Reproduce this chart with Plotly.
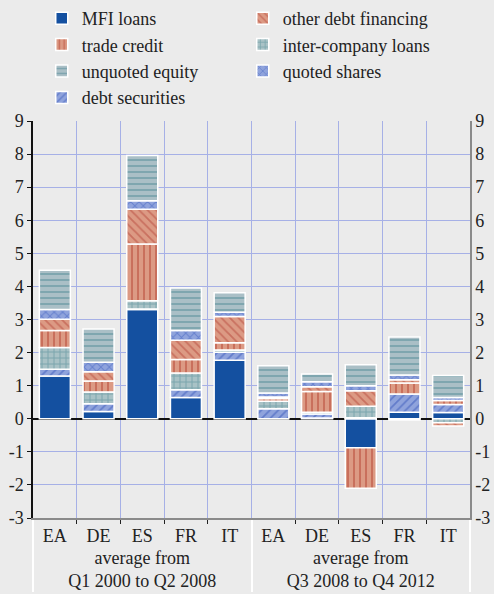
import plotly.graph_objects as go

BG = "#ebebeb"
GRID = "#a6b0e6"
FONT = "Liberation Serif"

groups = ["average from<br>Q1 2000 to Q2 2008"] * 5 + ["average from<br>Q3 2008 to Q4 2012"] * 5
countries = ["EA", "DE", "ES", "FR", "IT"] * 2

# stacked from the bottom up
mfi_loans = [1.29, 0.22, 3.30, 0.64, 1.77, 0.00, 0.02, -0.88, 0.20, 0.19]
debt_securities = [0.21, 0.23, 0.02, 0.24, 0.24, 0.30, 0.12, 0.03, 0.55, 0.24]
inter_company = [0.65, 0.36, 0.25, 0.50, 0.07, 0.23, 0.06, 0.35, -0.04, -0.12]
trade_credit = [0.52, 0.33, 1.71, 0.41, 0.22, 0.08, 0.62, -1.22, 0.33, 0.12]
other_debt = [0.34, 0.28, 1.05, 0.58, 0.79, 0.05, 0.15, 0.47, 0.10, -0.10]
quoted_shares = [0.29, 0.29, 0.26, 0.30, 0.13, 0.12, 0.15, 0.15, 0.14, 0.09]
unquoted_equity = [1.19, 1.00, 1.37, 1.28, 0.59, 0.82, 0.23, 0.63, 1.15, 0.67]

y_ticks = list(range(-3, 10))
y_labels = [str(v) for v in y_ticks]

# name, values, fill, line colour, pattern shape, legend rank
series = [
    ("MFI loans", mfi_loans, "#1450a0", None, "", 1),
    ("debt securities", debt_securities, "#8fa3dc", "#3656b8", "/", 7),
    ("inter-company loans", inter_company, "#a9c2c6", "#4b8893", "+", 4),
    ("trade credit", trade_credit, "#dc9a84", "#b23a2c", "|", 3),
    ("other debt financing", other_debt, "#dc9a84", "#b5453a", "\\", 2),
    ("quoted shares", quoted_shares, "#8fa3dc", "#4060c0", "x", 6),
    ("unquoted equity", unquoted_equity, "#aabfc6", "#4b8893", "-", 5),
]

fig = go.Figure()
for name, vals, fill, fg, shape, rank in series:
    pattern = dict(shape=shape, fgcolor=fg, size=6, solidity=0.3) if shape else None
    fig.add_trace(
        go.Bar(
            x=[groups, countries],
            y=vals,
            name=name,
            legendrank=rank,
            marker=dict(
                color=fill,
                line=dict(color="white", width=1.5),
                pattern=pattern,
            ),
        )
    )

# empty trace so the right-hand axis gets drawn
fig.add_trace(go.Scatter(x=[], y=[], yaxis="y2", showlegend=False, hoverinfo="skip"))

fig.update_layout(
    width=494,
    height=594,
    barmode="relative",
    bargap=0.29,
    plot_bgcolor=BG,
    paper_bgcolor=BG,
    font=dict(family=FONT, size=18, color="#222222"),
    margin=dict(l=33, r=24, t=121, b=76, autoexpand=False),
    showlegend=True,
    legend=dict(
        orientation="h",
        x=0.02,
        xanchor="left",
        y=1.0,
        yref="container",
        yanchor="top",
        entrywidth=156,
        entrywidthmode="pixels",
        bgcolor="rgba(0,0,0,0)",
        font=dict(family=FONT, size=18, color="#222222"),
        traceorder="normal",
        itemwidth=30,
        tracegroupgap=0,
    ),
)

fig.update_xaxes(
    type="multicategory",
    tickson="boundaries",
    showgrid=True,
    gridcolor=GRID,
    gridwidth=1,
    showline=True,
    linecolor="#8a8a8a",
    linewidth=2,
    ticks="outside",
    ticklen=4,
    tickcolor="#222222",
    showdividers=True,
    dividercolor="white",
    dividerwidth=2,
    tickfont=dict(family=FONT, size=18),
)

fig.update_layout(
    yaxis=dict(
        range=[-3, 9],
        tickvals=y_ticks,
        ticktext=y_labels,
        tickfont=dict(family=FONT, size=18),
        showgrid=True,
        gridcolor=GRID,
        gridwidth=1,
        zeroline=True,
        zerolinecolor="#111111",
        zerolinewidth=2,
        showline=True,
        linecolor="#111111",
        linewidth=1.5,
        ticks="outside",
        ticklen=4,
        tickcolor="#111111",
    ),
    yaxis2=dict(
        range=[-3, 9],
        tickvals=y_ticks,
        ticktext=y_labels,
        tickfont=dict(family=FONT, size=18),
        overlaying="y",
        side="right",
        showgrid=False,
        zeroline=False,
        showline=True,
        linecolor="#8a8a8a",
        linewidth=1.5,
        ticks="",
    ),
)

# the page body has a default 8px margin; drop it so the figure fills the window
fig.write_html(
    "out.html",
    config={"displayModeBar": False},
    post_script="document.body.style.margin = '0';",
)
